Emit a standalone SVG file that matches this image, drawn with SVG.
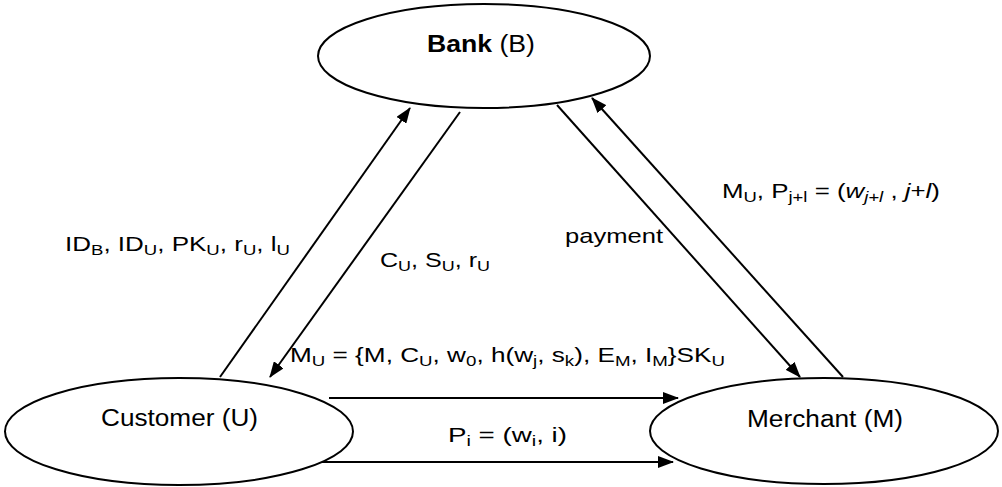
<svg xmlns="http://www.w3.org/2000/svg" width="1002" height="487" viewBox="0 0 1002 487">
<style>
  .node { fill: #ffffff; stroke: #000000; stroke-width: 2; }
  .nl { font-family: "Liberation Sans", Arial, sans-serif; font-size: 23px; fill: #000; }
  .el { font-family: "Liberation Sans", Arial, sans-serif; font-size: 21px; fill: #000; }
  .s { font-size: 15px; }
  .i { font-style: italic; }
  .conn { stroke: #000; stroke-width: 2; fill: none; marker-end: url(#ah); }
</style>
<defs>
  <marker id="ah" markerUnits="userSpaceOnUse" markerWidth="16" markerHeight="12" refX="15" refY="6" orient="auto">
    <path d="M0,0 L16,6 L0,12 z" fill="#000"/>
  </marker>
</defs>
<rect width="1002" height="487" fill="#ffffff"/>
<g id="bank">
  <ellipse class="node" cx="484" cy="56" rx="166" ry="52"/>
  <text class="nl" x="427" y="52" textLength="108" lengthAdjust="spacingAndGlyphs"><tspan font-weight="bold">Bank</tspan> (B)</text>
</g>
<g id="customer">
  <ellipse class="node" cx="179" cy="431.5" rx="174" ry="53.5"/>
  <text class="nl" x="101" y="426" textLength="157" lengthAdjust="spacingAndGlyphs">Customer (U)</text>
</g>
<g id="merchant">
  <ellipse class="node" cx="824" cy="431" rx="174" ry="53"/>
  <text class="nl" x="747" y="427" textLength="156" lengthAdjust="spacingAndGlyphs">Merchant (M)</text>
</g>
<g id="connectors">
  <line class="conn" x1="220" y1="377" x2="410" y2="108"/>
  <line class="conn" x1="460" y1="112" x2="270" y2="377"/>
  <line class="conn" x1="557" y1="105" x2="800" y2="377"/>
  <line class="conn" x1="843" y1="377" x2="592" y2="98"/>
  <line class="conn" x1="329" y1="398" x2="678" y2="398"/>
  <line class="conn" x1="322" y1="462" x2="673" y2="462"/>
</g>
<g id="labels">
  <text class="el" x="65" y="251" textLength="225" lengthAdjust="spacingAndGlyphs">ID<tspan class="s" dy="4">B</tspan><tspan dy="-4">, ID</tspan><tspan class="s" dy="4">U</tspan><tspan dy="-4">, PK</tspan><tspan class="s" dy="4">U</tspan><tspan dy="-4">, r</tspan><tspan class="s" dy="4">U</tspan><tspan dy="-4">, l</tspan><tspan class="s" dy="4">U</tspan></text>
  <text class="el" x="380" y="267" textLength="110" lengthAdjust="spacingAndGlyphs">C<tspan class="s" dy="4">U</tspan><tspan dy="-4">, S</tspan><tspan class="s" dy="4">U</tspan><tspan dy="-4">, r</tspan><tspan class="s" dy="4">U</tspan></text>
  <text class="el" x="565" y="243" textLength="98" lengthAdjust="spacingAndGlyphs">payment</text>
  <text class="el" x="722" y="198" textLength="218" lengthAdjust="spacingAndGlyphs">M<tspan class="s" dy="4">U</tspan><tspan dy="-4">, P</tspan><tspan class="s" dy="4">j+l</tspan><tspan dy="-4"> = (</tspan><tspan class="i">w</tspan><tspan class="s i" dy="4">j+l</tspan><tspan dy="-4"> , </tspan><tspan class="i">j</tspan>+<tspan class="i">l</tspan>)</text>
  <text class="el" x="290" y="362" textLength="435" lengthAdjust="spacingAndGlyphs">M<tspan class="s" dy="4">U</tspan><tspan dy="-4"> = {M, C</tspan><tspan class="s" dy="4">U</tspan><tspan dy="-4">, w</tspan><tspan class="s" dy="4">0</tspan><tspan dy="-4">, h(w</tspan><tspan class="s" dy="4">j</tspan><tspan dy="-4">, s</tspan><tspan class="s" dy="4">k</tspan><tspan dy="-4">), E</tspan><tspan class="s" dy="4">M</tspan><tspan dy="-4">, I</tspan><tspan class="s" dy="4">M</tspan><tspan dy="-4">}SK</tspan><tspan class="s" dy="4">U</tspan></text>
  <text class="el" x="448" y="442" textLength="119" lengthAdjust="spacingAndGlyphs">P<tspan class="s" dy="4">i</tspan><tspan dy="-4"> = (w</tspan><tspan class="s" dy="4">i</tspan><tspan dy="-4">, i)</tspan></text>
</g>
</svg>
